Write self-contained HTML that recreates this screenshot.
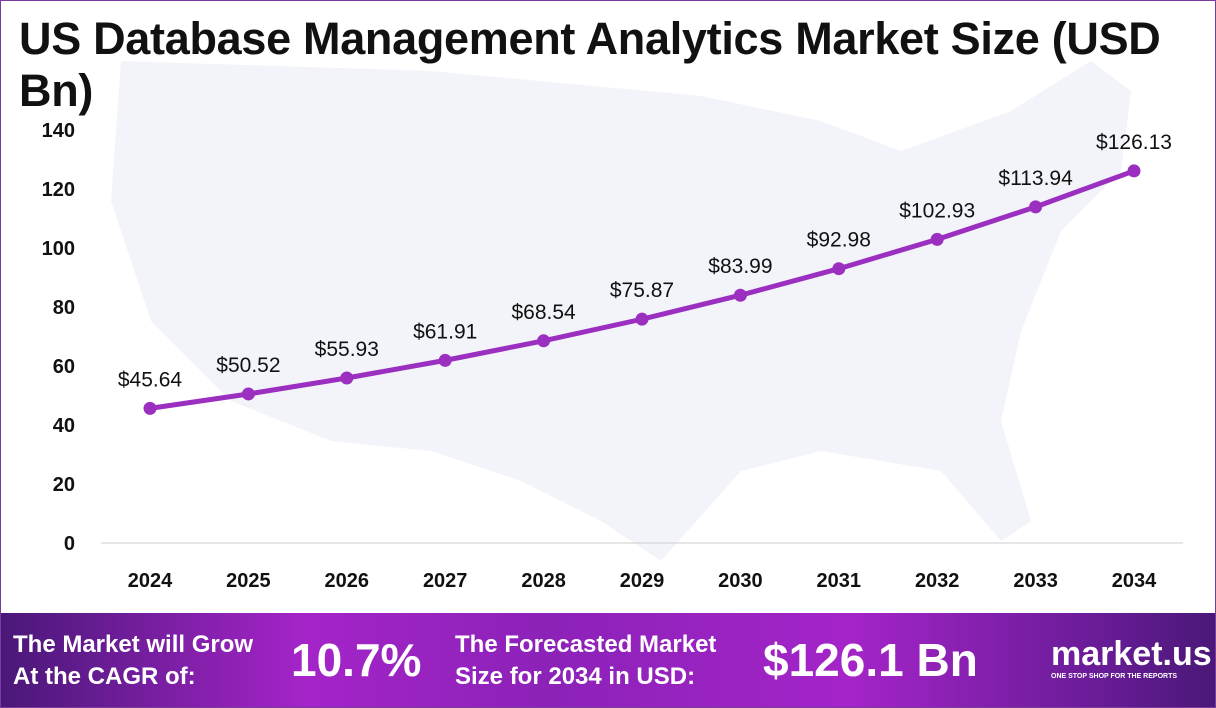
<!DOCTYPE html>
<html><head><meta charset="utf-8"><style>
body{margin:0;width:1216px;height:708px;overflow:hidden;background:#fff;font-family:"Liberation Sans",sans-serif}
#wrap{position:relative;width:1214px;height:706px;border:1px solid #7a3aa0;overflow:hidden}
h1{position:absolute;left:18px;top:12px;margin:0;font-size:45px;line-height:52px;font-weight:bold;color:#111;width:1180px;letter-spacing:-0.3px}
#footer{position:absolute;left:0;top:612px;width:1214px;height:94px;background:linear-gradient(90deg,#4a1878 0%,#a424c8 25%,#8c22b8 45%,#a424c8 70%,#6a1c98 90%,#4a1878 100%);color:#fff;font-weight:bold}
.ft{position:absolute;font-size:24px;line-height:32px}
.big{position:absolute;font-size:46px;top:20px}
</style></head><body>
<div id="wrap">
<svg width="1214" height="612" style="position:absolute;left:0;top:0">
<path d="M120 60 L430 70 L700 95 L820 120 L900 150 L1010 110 L1090 60 L1130 90 L1120 170 L1060 230 L1020 330 L1000 420 L1030 520 L1000 540 L940 470 L820 450 L740 470 L660 560 L600 520 L520 480 L430 450 L330 440 L230 400 L150 320 L110 200 Z" fill="#f2f4fa"/>
<g id="yaxis"></g><g id="xaxis"></g><g id="series"></g>
</svg>
<h1>US Database Management Analytics Market Size (USD Bn)</h1>
<div id="footer">
<div class="ft" style="left:12px;top:16px">The Market will Grow<br>At the CAGR of:</div>
<div class="big" style="left:290px">10.7%</div>
<div class="ft" style="left:454px;top:16px">The Forecasted Market<br>Size for 2034 in USD:</div>
<div class="big" style="left:762px">$126.1 Bn</div>
<div style="position:absolute;left:1050px;top:24px;font-size:34px;line-height:34px">market.us</div>
<div style="position:absolute;left:1050px;top:60px;font-size:7px">ONE STOP SHOP FOR THE REPORTS</div>
</div>
</div>
<script>
const years=["2024","2025","2026","2027","2028","2029","2030","2031","2032","2033","2034"];
const values=[45.64,50.52,55.93,61.91,68.54,75.87,83.99,92.98,102.93,113.94,126.13];
const yTicks=[0,20,40,60,80,100,120,140];
const NS="http://www.w3.org/2000/svg";
const y=v=>542-v*(413/140);
const x=i=>149+i*98.4;
function mk(t,a,p,txt){const e=document.createElementNS(NS,t);for(const k in a)e.setAttribute(k,a[k]);if(txt!==undefined)e.textContent=txt;p.appendChild(e);return e;}
const ya=document.getElementById('yaxis'),xa=document.getElementById('xaxis'),se=document.getElementById('series');
mk('line',{x1:100,x2:1182,y1:542,y2:542,stroke:'#ccc','stroke-width':1},xa);
yTicks.forEach(t=>{const e=mk('text',{x:74,y:y(t)+7,'text-anchor':'end','font-size':20,'font-weight':'bold',fill:'#111'},ya,t);

});
years.forEach((yr,i)=>{const e=mk('text',{x:x(i),y:586,'text-anchor':'middle','font-size':20,'font-weight':'bold',fill:'#111'},xa,yr);

});
const line=mk('polyline',{points:values.map((v,i)=>x(i)+','+y(v)).join(' '),fill:'none',stroke:'#9b30c0','stroke-width':5},se);


values.forEach((v,i)=>{const c=mk('circle',{cx:x(i),cy:y(v),r:6.5,fill:'#9b30c0'},se);


const t=mk('text',{x:x(i),y:y(v)-22,'text-anchor':'middle','font-size':21,fill:'#111'},se,'$'+v.toFixed(2));

});
</script>
</body></html>
